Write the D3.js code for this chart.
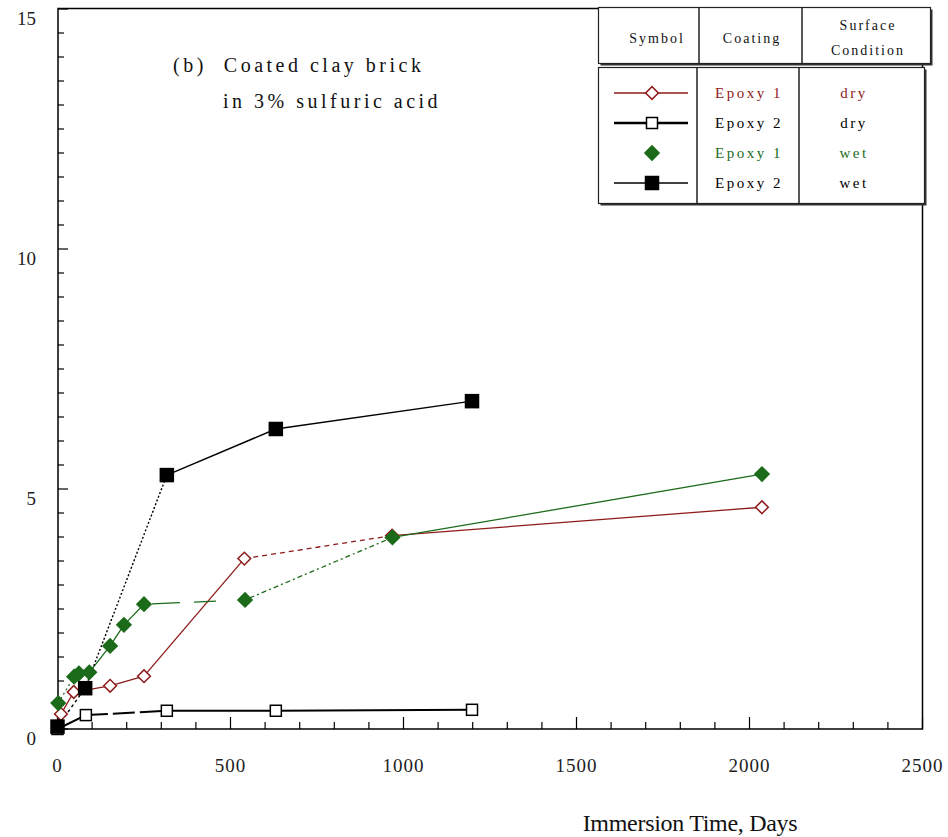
<!DOCTYPE html>
<html>
<head>
<meta charset="utf-8">
<script src="https://cdn.jsdelivr.net/npm/d3@7"></script>
<style>
  body { margin: 0; background: #fff; }
  text { font-family: "Liberation Serif", "Times New Roman", serif; white-space: pre; }
</style>
</head>
<body>
<svg id="chart" width="948" height="837"></svg>
<script>
// tick labels
var xTicks = [0, 500, 1000, 1500, 2000, 2500];
var yTicks = [0, 5, 10, 15];

// Epoxy 1, dry surface (open diamonds)
var e1DryDays = [0, 10, 47, 152, 250, 540, 967, 2036];
var e1DryVals = [0, 0.31, 0.77, 0.9, 1.1, 3.55, 4.03, 4.62];

// Epoxy 2, dry surface (open squares)
var e2DryDays = [0, 82, 316, 631, 1198];
var e2DryVals = [0, 0.29, 0.38, 0.38, 0.4];

// Epoxy 1, wet surface (filled diamonds)
var e1WetDays = [2, 48, 62, 92, 152, 192, 250, 542, 968, 2036];
var e1WetVals = [0.54, 1.09, 1.16, 1.18, 1.73, 2.17, 2.6, 2.69, 3.99, 5.31];

// Epoxy 2, wet surface (filled squares)
var e2WetDays = [0, 80, 316, 631, 1198];
var e2WetVals = [0.05, 0.85, 5.29, 6.25, 6.83];

var legendCoating = ["Epoxy 1", "Epoxy 2", "Epoxy 1", "Epoxy 2"];
var legendSurface = ["dry", "dry", "wet", "wet"];

var red = "#8e1b1b", green = "#1b6b1b";

var svg = d3.select("#chart");

var x = d3.scaleLinear().domain([0, 2500]).range([57.5, 922.5]);
var y = d3.scaleLinear().domain([0, 15]).range([729, 9]);

function zip(a, b) { return a.map(function(d, i) { return [d, b[i]]; }); }

// dash per segment is just styling, kept here
var series = [
  { pts: zip(e1DryDays, e1DryVals), color: red, width: 1.3, marker: "diamond", fill: "#fff", msize: 9,
    dash: ["", "", "", "", "", "5,4", ""] },
  { pts: zip(e2DryDays, e2DryVals), color: "#000", width: 2, marker: "square", fill: "#fff", msize: 11,
    dash: ["", "22,5", "", ""] },
  { pts: zip(e1WetDays, e1WetVals), color: green, width: 1.3, marker: "diamond", fill: green, msize: 10,
    dash: ["2,3", "", "", "", "", "", "0,8,28,14,22,50", "2,3,5,3", ""] },
  { pts: zip(e2WetDays, e2WetVals), color: "#000", width: 1.4, marker: "square", fill: "#000", msize: 13,
    dash: ["3,3", "2,2", "", ""] }
];

// frame
svg.append("rect")
  .attr("x", 58).attr("y", 8.5)
  .attr("width", 864.5).attr("height", 720.5)
  .attr("fill", "none").attr("stroke", "#000").attr("stroke-width", 1.5);

// ticks (inside)
var g = svg.append("g");
d3.range(0, 2501, 100).forEach(function(t) {
  var len = t % 500 === 0 ? 12 : 7;
  g.append("line")
    .attr("x1", x(t)).attr("x2", x(t))
    .attr("y1", 729).attr("y2", 729 - len)
    .attr("stroke", "#000").attr("stroke-width", 1.2);
});
d3.range(0, 15.01, 0.5).forEach(function(t) {
  var len = t % 5 === 0 ? 10 : 6;
  g.append("line")
    .attr("x1", 58).attr("x2", 58 + len)
    .attr("y1", y(t)).attr("y2", y(t))
    .attr("stroke", "#000").attr("stroke-width", 1.2);
});

svg.selectAll(".xlab").data(xTicks).enter().append("text")
  .attr("x", function(d) { return x(d); })
  .attr("y", 772)
  .attr("text-anchor", "middle")
  .style("font-size", "19px")
  .style("letter-spacing", "1px")
  .style("fill", "#222")
  .text(function(d) { return d; });

svg.selectAll(".ylab").data(yTicks).enter().append("text")
  .attr("x", 36)
  .attr("y", function(d) { return y(d) + 16; })
  .attr("text-anchor", "end")
  .style("font-size", "19px")
  .style("fill", "#222")
  .text(function(d) { return d; });

svg.append("text")
  .attr("x", 690).attr("y", 831)
  .attr("text-anchor", "middle")
  .style("font-size", "24px")
  .style("letter-spacing", "-0.3px")
  .style("fill", "#111")
  .text("Immersion Time, Days");

// note inside plot
svg.append("text")
  .attr("x", 173).attr("y", 72)
  .style("font-size", "20px").style("letter-spacing", "3.5px").style("fill", "#111")
  .text("(b)  Coated clay brick");
svg.append("text")
  .attr("x", 223).attr("y", 108)
  .style("font-size", "20px").style("letter-spacing", "3.5px").style("fill", "#111")
  .text("in 3% sulfuric acid");

function marker(sel, type, size, color, fill) {
  var p = sel.append("rect")
    .attr("x", -size / 2).attr("y", -size / 2)
    .attr("width", size).attr("height", size)
    .attr("fill", fill).attr("stroke", color).attr("stroke-width", 1.5);
  if (type === "diamond") p.attr("transform", "rotate(45)");
}

var line = d3.line()
  .x(function(d) { return x(d[0]); })
  .y(function(d) { return y(d[1]); });

series.forEach(function(s) {
  for (var i = 0; i < s.pts.length - 1; i++) {
    svg.append("path")
      .attr("d", line([s.pts[i], s.pts[i + 1]]))
      .attr("fill", "none")
      .attr("stroke", s.color)
      .attr("stroke-width", s.width)
      .attr("stroke-dasharray", s.dash[i] || null);
  }
});
series.forEach(function(s) {
  s.pts.forEach(function(p, i) {
    if (s === series[0] && i === 0) return;
    var m = svg.append("g").attr("transform", "translate(" + x(p[0]) + "," + y(p[1]) + ")");
    marker(m, s.marker, s.msize, s.color, s.fill);
  });
});

// legend table
var lg = svg.append("g");
function box(x0, y0, w, h) {
  lg.append("rect").attr("x", x0 + 2).attr("y", y0 + 2).attr("width", w).attr("height", h).attr("fill", "#333");
  lg.append("rect").attr("x", x0).attr("y", y0).attr("width", w).attr("height", h)
    .attr("fill", "#fff").attr("stroke", "#222").attr("stroke-width", 1.2);
}
box(598.5, 7.5, 332, 56);
box(598.5, 67.5, 326, 136);
[699, 802].forEach(function(cx) {
  lg.append("line").attr("x1", cx).attr("x2", cx).attr("y1", 7.5).attr("y2", 63.5)
    .attr("stroke", "#222").attr("stroke-width", 1.5);
});
[697, 799].forEach(function(cx) {
  lg.append("line").attr("x1", cx).attr("x2", cx).attr("y1", 67.5).attr("y2", 203.5)
    .attr("stroke", "#222").attr("stroke-width", 1.5);
});

function hdr(tx, ty, t) {
  lg.append("text").attr("x", tx).attr("y", ty).attr("text-anchor", "middle")
    .style("font-size", "14px").style("letter-spacing", "2px").style("fill", "#111").text(t);
}
hdr(657, 43, "Symbol");
hdr(752, 43, "Coating");
hdr(868, 30, "Surface");
hdr(868, 55, "Condition");

var rowY = [93, 123, 153, 183];
var legWidths = [1.3, 2.5, 0, 1.4];
series.forEach(function(s, i) {
  var ry = rowY[i];
  if (legWidths[i] > 0) {
    lg.append("line").attr("x1", 614).attr("x2", 688).attr("y1", ry).attr("y2", ry)
      .attr("stroke", s.color).attr("stroke-width", legWidths[i]);
  }
  var m = lg.append("g").attr("transform", "translate(652," + ry + ")");
  marker(m, s.marker, s.msize, s.color, s.fill);
  lg.append("text").attr("x", 749).attr("y", ry + 5).attr("text-anchor", "middle")
    .style("font-size", "15px").style("letter-spacing", "2.5px").style("fill", s.color)
    .text(legendCoating[i]);
  lg.append("text").attr("x", 854).attr("y", ry + 5).attr("text-anchor", "middle")
    .style("font-size", "15px").style("letter-spacing", "2.5px").style("fill", s.color)
    .text(legendSurface[i]);
});
</script>
</body>
</html>
